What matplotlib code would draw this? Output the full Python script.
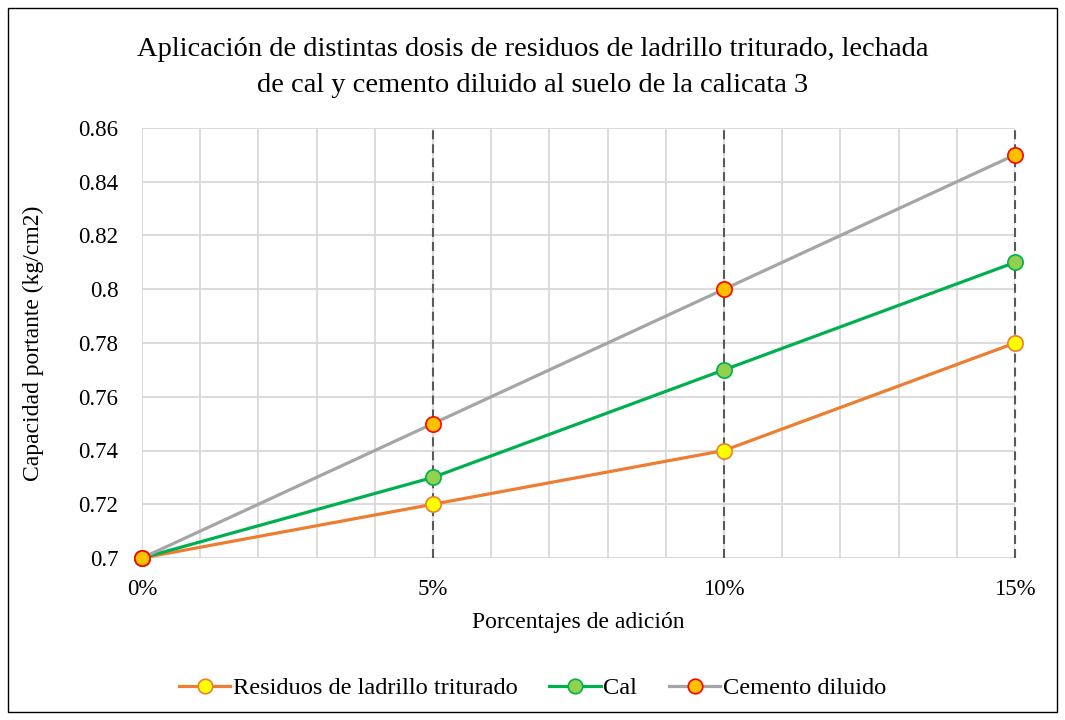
import matplotlib
matplotlib.use("Agg")
import matplotlib.pyplot as plt
from matplotlib.patches import Rectangle
from matplotlib.ticker import FuncFormatter, MultipleLocator

plt.rcParams['font.family'] = ['Liberation Serif', 'DejaVu Serif']

x_pct = [0, 5, 10, 15]
x_labels = ["0%", "5%", "10%", "15%"]
residuos = [0.70, 0.72, 0.74, 0.78]
cal = [0.70, 0.73, 0.77, 0.81]
cemento = [0.70, 0.75, 0.80, 0.85]

title_l1 = "Aplicación de distintas dosis de residuos de ladrillo triturado, lechada"
title_l2 = "de cal y cemento diluido al suelo de la calicata 3"

W, H = 1065, 720
fig = plt.figure(figsize=(W / 100, H / 100), dpi=100)
fig.patches.append(Rectangle((8/W, 8/H), 1049/W, 704/H, transform=fig.transFigure,
                             fill=False, edgecolor='black', linewidth=1.0))
ax = fig.add_axes([142/W, 1 - 558/H, (1015 - 142)/W, (558 - 128)/H])

ax.set_xlim(0, 15)
ax.set_ylim(0.70, 0.86)
ax.xaxis.set_minor_locator(MultipleLocator(1))
ax.set_xticks(x_pct)
ax.set_xticklabels(x_labels)
ax.yaxis.set_major_locator(MultipleLocator(0.02))


def yfmt(v, p):
    s = f"{v:.2f}".rstrip('0').rstrip('.')
    return s


ax.yaxis.set_major_formatter(FuncFormatter(yfmt))

ax.grid(True, which='both', axis='x', color='#D9D9D9', linewidth=1.3)
ax.grid(True, which='major', axis='y', color='#D9D9D9', linewidth=1.3)
ax.set_axisbelow(True)
for s in ax.spines.values():
    s.set_visible(False)
ax.axhline(0.70, color='#D9D9D9', linewidth=1.3, zorder=0.5)
ax.tick_params(which='both', length=0, labelsize=16.5)
ax.tick_params(axis='x', pad=15)
ax.tick_params(axis='y', pad=17)

for xv in x_pct[1:]:
    ax.axvline(xv, color='#595959', linestyle=(0, (4.3, 2.4)), linewidth=1.5,
               zorder=1, clip_on=False)

ms = 11
ax.plot(x_pct, residuos, color='#ED7D31', linewidth=2.3, marker='o', markersize=ms,
        markerfacecolor='#FFFF00', markeredgecolor='#ED7D31', markeredgewidth=1.2,
        label='Residuos de ladrillo triturado', zorder=3, clip_on=False)
ax.plot(x_pct, cal, color='#00B050', linewidth=2.3, marker='o', markersize=ms,
        markerfacecolor='#92D050', markeredgecolor='#00B050', markeredgewidth=1.2,
        label='Cal', zorder=3, clip_on=False)
ax.plot(x_pct, cemento, color='#A5A5A5', linewidth=2.3, marker='o', markersize=ms,
        markerfacecolor='#FFC000', markeredgecolor='#FF0000', markeredgewidth=1.2,
        label='Cemento diluido', zorder=4, clip_on=False)

ax.set_xlabel("Porcentajes de adición", fontsize=17)
ax.set_ylabel("Capacidad portante (kg/cm2)", fontsize=17)
ax.xaxis.set_label_coords(0.5, (558 - 612) / 430)
ax.yaxis.set_label_coords((44 - 142) / 873, 0.5)

fig.text(0.5, 1 - 49/H, title_l1, ha='center', va='center', fontsize=20.5)
fig.text(0.5, 1 - 85/H, title_l2, ha='center', va='center', fontsize=20.5)

leg = fig.legend(loc='center', bbox_to_anchor=(0.5, 1 - 688/H), ncol=3, frameon=False,
                 fontsize=17.6, handlelength=2.1, handletextpad=0.1, columnspacing=1.3,
                 markerscale=0.95)

fig.savefig("out.png", dpi=100)
